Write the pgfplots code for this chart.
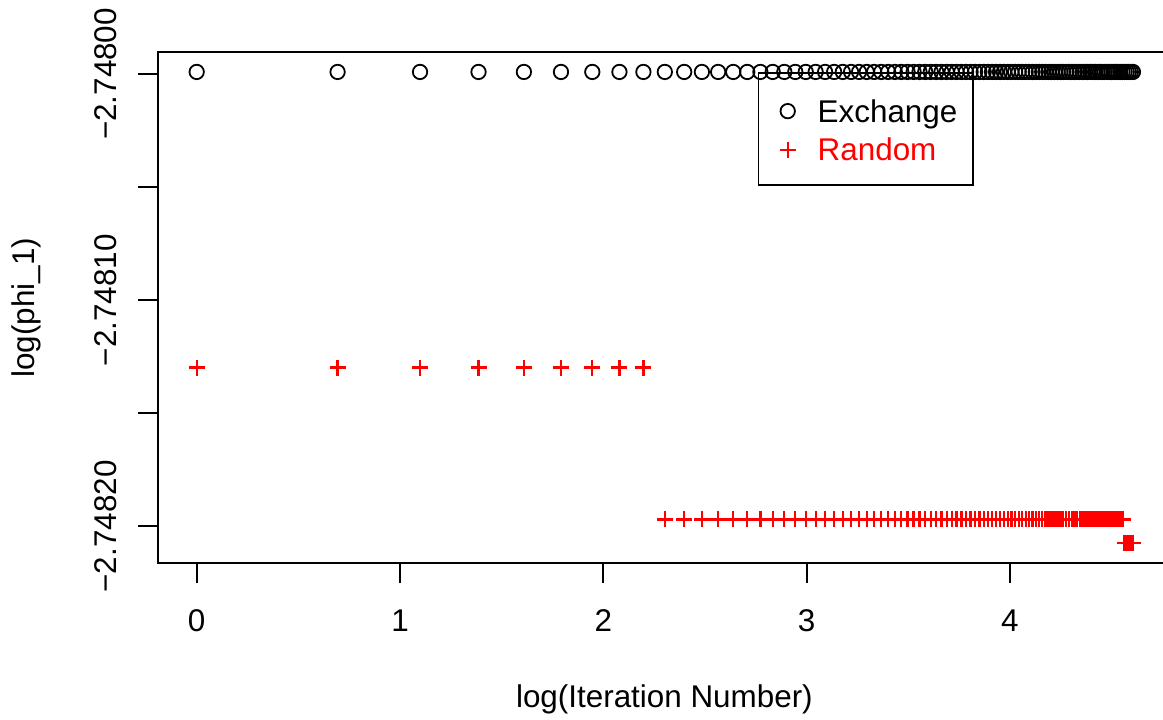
\documentclass[border=0pt]{standalone}
\usepackage{pgfplots}
\pgfplotsset{compat=1.18}
\usepackage{pgfplotstable}
\usepackage{fontspec}
\setmainfont{Liberation Sans}
\newcommand\rf{\fontsize{15.7}{18.8}\selectfont}

% n, log(n), and (log(phi_1) + 2.748) * 1e5 for both samplers
\pgfplotstableread{
n lx exch rand
1 0.0000 0.09 -12.98
2 0.6931 0.09 -12.98
3 1.0986 0.09 -12.98
4 1.3863 0.09 -12.98
5 1.6094 0.09 -12.98
6 1.7918 0.09 -12.98
7 1.9459 0.09 -12.98
8 2.0794 0.09 -12.98
9 2.1972 0.09 -12.98
10 2.3026 0.09 -19.69
11 2.3979 0.09 -19.69
12 2.4849 0.09 -19.69
13 2.5649 0.09 -19.69
14 2.6391 0.09 -19.69
15 2.7081 0.09 -19.69
16 2.7726 0.09 -19.69
17 2.8332 0.09 -19.69
18 2.8904 0.09 -19.69
19 2.9444 0.09 -19.69
20 2.9957 0.09 -19.69
21 3.0445 0.09 -19.69
22 3.0910 0.09 -19.69
23 3.1355 0.09 -19.69
24 3.1781 0.09 -19.69
25 3.2189 0.09 -19.69
26 3.2581 0.09 -19.69
27 3.2958 0.09 -19.69
28 3.3322 0.09 -19.69
29 3.3673 0.09 -19.69
30 3.4012 0.09 -19.69
31 3.4340 0.09 -19.69
32 3.4657 0.09 -19.69
33 3.4965 0.09 -19.69
34 3.5264 0.09 -19.69
35 3.5553 0.09 -19.69
36 3.5835 0.09 -19.69
37 3.6109 0.09 -19.69
38 3.6376 0.09 -19.69
39 3.6636 0.09 -19.69
40 3.6889 0.09 -19.69
41 3.7136 0.09 -19.69
42 3.7377 0.09 -19.69
43 3.7612 0.09 -19.69
44 3.7842 0.09 -19.69
45 3.8067 0.09 -19.69
46 3.8286 0.09 -19.69
47 3.8501 0.09 -19.69
48 3.8712 0.09 -19.69
49 3.8918 0.09 -19.69
50 3.9120 0.09 -19.69
51 3.9318 0.09 -19.69
52 3.9512 0.09 -19.69
53 3.9703 0.09 -19.69
54 3.9890 0.09 -19.69
55 4.0073 0.09 -19.69
56 4.0254 0.09 -19.69
57 4.0431 0.09 -19.69
58 4.0604 0.09 -19.69
59 4.0775 0.09 -19.69
60 4.0943 0.09 -19.69
61 4.1109 0.09 -19.69
62 4.1271 0.09 -19.69
63 4.1431 0.09 -19.69
64 4.1589 0.09 -19.69
65 4.1744 0.09 -19.69
66 4.1897 0.09 -19.69
67 4.2047 0.09 -19.69
68 4.2195 0.09 -19.69
69 4.2341 0.09 -19.69
70 4.2485 0.09 -19.69
71 4.2627 0.09 -19.69
72 4.2767 0.09 -19.69
73 4.2905 0.09 -19.69
74 4.3041 0.09 -19.69
75 4.3175 0.09 -19.69
76 4.3307 0.09 -19.69
77 4.3438 0.09 -19.69
78 4.3567 0.09 -19.69
79 4.3694 0.09 -19.69
80 4.3820 0.09 -19.69
81 4.3944 0.09 -19.69
82 4.4067 0.09 -19.69
83 4.4188 0.09 -19.69
84 4.4308 0.09 -19.69
85 4.4427 0.09 -19.69
86 4.4543 0.09 -19.69
87 4.4659 0.09 -19.69
88 4.4773 0.09 -19.69
89 4.4886 0.09 -19.69
90 4.4998 0.09 -19.69
91 4.5109 0.09 -19.69
92 4.5218 0.09 -19.69
93 4.5326 0.09 -19.69
94 4.5433 0.09 -19.69
95 4.5539 0.09 -19.69
96 4.5643 0.09 -20.72
97 4.5747 0.09 -20.72
98 4.5850 0.09 -20.72
99 4.5951 0.09 -20.72
100 4.6052 0.09 -20.72
}\phidata

\begin{document}
\begin{tikzpicture}
\begin{axis}[
  scale only axis, width=506.1pt, height=255.4pt,
  xmin=-0.189, xmax=4.79, ymin=-21.62, ymax=0.96,
  axis line style={line width=1pt},
  tick pos=left, tick align=outside, major tick length=10pt,
  every tick/.style={black, line width=1pt},
  xtick={0,1,2,3,4},
  ytick={0,-5,-10,-15,-20},
  yticklabels={−2.74800,,−2.74810,,−2.74820},
  /pgf/number format/assume math mode=true,
  tick label style={font=\rf, inner sep=0pt},
  xticklabel style={anchor=base, yshift=-24.2pt},
  yticklabel style={xshift=-11pt, rotate=90, anchor=base},
  xlabel={log(Iteration Number)}, ylabel={log(phi\_1)},
  label style={font=\rf, inner sep=0pt},
  xlabel style={at={(axis description cs:0.5,-0.2818)}, anchor=base},
  ylabel style={at={(axis description cs:-0.1219,0.5)}, anchor=base},
  legend style={at={(axis description cs:0.592,0.9615)}, anchor=north west,
    fill=none, draw=black, line width=0.8pt, font=\rf,
    inner xsep=7.8pt, inner ysep=11pt, row sep=4.4pt,
    nodes={inner sep=0pt, text height=13.8pt, text depth=1.1pt, anchor=base west}},
  legend image code/.code={\path[draw=none, fill=none] (0pt,0pt) rectangle (21.9pt,11pt);
    \draw[#1] plot coordinates {(6.9pt,5.6pt)};},
]
\addplot[only marks, mark=o, mark size=3.6pt, line width=0.9pt, black]
  table[x=lx, y=exch] {\phidata};
\addlegendentry{Exchange}
\addplot[only marks, mark=+, mark size=4pt, line width=1.15pt, red]
  table[x=lx, y=rand] {\phidata};
\addlegendentry{\textcolor{red}{Random}}
\coordinate (bbsw) at (axis cs:-0.9675,-28.515);
\coordinate (bbne) at (axis cs:4.7531,3.271);
\end{axis}
\pgfresetboundingbox
\path[use as bounding box] (bbsw) rectangle (bbne);
\end{tikzpicture}
\end{document}
